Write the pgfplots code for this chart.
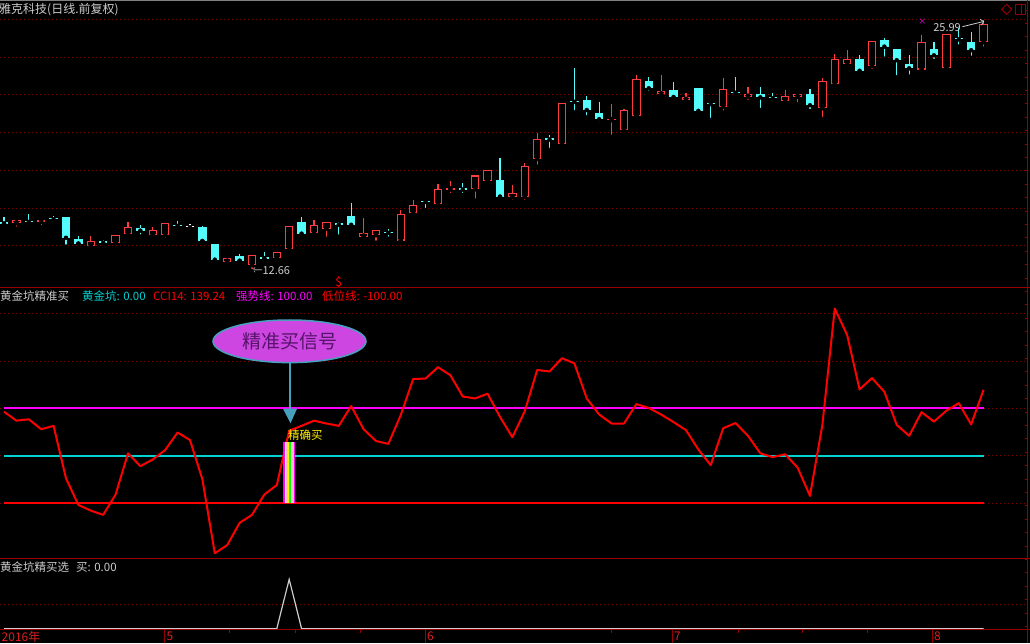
\documentclass[border=0pt]{standalone}
\usepackage{pgfplots}
\pgfplotsset{compat=1.18}
\usepackage{pgfplotstable}
\usepackage{fontspec}
\setmainfont{Noto Sans CJK SC}
\usetikzlibrary{arrows.meta}

\newcommand\fs[1]{\fontsize{#1}{#1}\selectfont}

\definecolor{kred}{RGB}{255,60,60}
\definecolor{kcyan}{RGB}{84,252,252}
\definecolor{ccired}{RGB}{255,0,0}
\definecolor{strong}{RGB}{255,0,255}
\definecolor{zline}{RGB}{0,210,210}
\definecolor{frame}{RGB}{150,0,0}
\definecolor{gridc}{RGB}{128,0,0}
\definecolor{axlbl}{RGB}{220,30,30}
\definecolor{txt}{RGB}{205,205,205}
\definecolor{callfill}{RGB}{205,70,225}
\definecolor{callline}{RGB}{70,160,190}
\definecolor{calltext}{RGB}{85,20,105}

% daily bars: index, open, high, low, close, CCI14, buy signal
\pgfplotstableread{
i o h l c cci buy
0 15.26 15.51 15.17 15.17 93 0
1 15.19 15.35 14.90 15.35 74 0
2 15.29 15.67 15.15 15.26 77 0
3 15.27 15.36 14.98 15.36 56 0
4 15.43 15.58 15.27 15.40 63 0
5 15.52 15.52 13.95 14.42 -48 0
6 14.34 14.51 14.11 14.11 -104 0
7 14.00 14.51 13.95 14.25 -116 0
8 14.27 14.32 14.07 14.16 -125 0
9 14.16 14.55 14.16 14.55 -82 0
10 14.64 15.26 14.64 14.99 5 0
11 14.94 15.10 14.48 14.80 -22 0
12 14.58 14.99 14.58 14.82 -8 0
13 14.58 15.20 14.32 15.20 12 0
14 15.07 15.31 14.96 15.05 49 0
15 14.98 15.15 14.80 14.98 33 0
16 14.99 15.05 14.25 14.25 -50 0
17 14.09 14.09 13.10 13.26 -206 0
18 13.15 13.33 13.07 13.33 -189 0
19 13.45 13.56 13.20 13.20 -142 0
20 12.96 13.49 12.66 13.49 -125 0
21 13.34 13.67 13.32 13.32 -82 0
22 13.36 13.65 13.36 13.65 -62 0
23 13.81 15.03 13.81 15.03 53 1
24 15.24 15.52 14.42 14.64 63 0
25 14.69 15.36 14.64 15.10 74 0
26 14.90 15.24 14.36 15.24 68 0
27 15.14 15.24 14.48 15.12 63 0
28 15.58 16.27 15.01 15.11 105 0
29 14.48 15.47 14.48 14.66 56 0
30 14.55 14.83 14.16 14.83 31 0
31 14.70 14.89 14.37 14.68 25 0
32 14.27 15.89 14.27 15.68 86 0
33 15.75 16.42 15.65 16.16 162 0
34 16.34 16.42 15.89 16.32 163 0
35 16.21 17.27 16.04 16.99 187 0
36 16.98 17.42 16.69 17.00 170 0
37 17.00 17.31 16.69 16.98 125 0
38 16.99 17.73 16.39 17.73 121 0
39 17.43 18.00 17.43 18.00 131 0
40 17.47 18.65 16.60 16.60 82 0
41 16.57 17.20 16.33 16.78 39 0
42 16.60 18.37 16.33 18.21 94 0
43 18.60 19.96 18.19 19.68 181 0
44 19.65 19.89 19.08 19.63 178 0
45 19.40 21.59 19.29 21.59 206 0
46 21.65 23.44 21.08 21.63 195 0
47 21.75 21.96 20.81 21.20 121 0
48 21.06 21.61 20.49 20.71 87 0
49 20.66 21.50 19.77 20.68 68 0
50 20.12 21.24 20.12 21.22 68 0
51 20.88 23.06 20.88 22.84 109 0
52 22.74 22.97 22.09 22.35 101 0
53 22.03 23.06 21.94 22.21 87 0
54 22.26 22.68 21.73 21.89 71 0
55 21.73 22.09 21.62 21.89 54 0
56 22.34 22.34 20.99 21.15 13 0
57 21.53 21.53 20.67 21.51 -20 0
58 21.37 22.91 21.06 22.33 58 0
59 22.13 22.97 21.90 22.11 69 0
60 21.90 22.42 21.64 22.05 42 0
61 22.06 22.40 21.20 21.87 5 0
62 21.83 22.12 21.59 21.81 -3 0
63 21.69 22.26 21.55 21.94 3 0
64 21.90 22.05 21.50 22.05 -25 0
65 22.06 22.30 21.15 21.45 -85 0
66 21.29 22.88 20.72 22.75 65 0
67 22.58 24.17 22.40 23.90 311 0
68 23.62 24.38 23.44 23.90 255 0
69 23.92 24.10 23.18 23.28 140 0
70 23.52 24.86 23.28 24.86 164 0
71 24.91 25.03 23.92 24.56 135 0
72 24.44 24.44 22.93 23.84 65 0
73 23.66 24.10 22.97 23.41 42 0
74 23.34 25.19 23.23 24.81 92 0
75 24.44 24.81 23.81 24.10 72 0
76 23.41 25.22 23.41 25.22 95 0
77 24.96 25.56 24.56 24.94 111 0
78 24.81 25.32 23.97 24.37 66 0
79 24.79 25.99 24.45 25.76 139.24 0
}\kline

\pgfplotsset{
  panel/.style={scale only axis, width=1027.5pt, xmin=-0.3226, xmax=82.54,
    anchor=south west, axis line style={draw=none}, tick style={draw=none},
    xtick=\empty, yticklabels={}, ymajorgrids,
    grid style={gridc, line width=0.8pt, dash pattern=on 1pt off 3pt}},
  candle/.style={only marks, mark=none, error bars/y dir=plus,
    error bars/y explicit, error bars/error mark=none},
  up/.style={restrict expr to domain={\thisrow{c}-\thisrow{o}}{0.000001:100}},
  down/.style={restrict expr to domain={\thisrow{c}-\thisrow{o}}{-100:-0.000001}},
  flat/.style={restrict expr to domain={\thisrow{c}-\thisrow{o}}{-0.0000001:0.0000001}},
}

\begin{document}
\begin{tikzpicture}
\fill[black] (0pt,0pt) rectangle (1030pt,643pt);

% price panel
\begin{axis}[panel, at={(0pt,356pt)}, height=287pt, ymin=11.809, ymax=27.034,
  ytick={14,16,...,26}]
  % wicks
  \addplot[candle, up, error bars/error bar style={kred, line width=1.1pt}]
    table[x=i, y=l, y error plus expr=\thisrow{h}-\thisrow{l}] {\kline};
  \addplot[candle, down, error bars/error bar style={kcyan, line width=1.1pt}]
    table[x=i, y=l, y error plus expr=\thisrow{h}-\thisrow{l}] {\kline};
  \addplot[candle, flat, error bars/error bar style={white, line width=1.1pt}]
    table[x=i, y=l, y error plus expr=\thisrow{h}-\thisrow{l}] {\kline};
  % bodies
  \addplot[candle, up, error bars/error bar style={kred, line width=8.5pt}]
    table[x=i, y=o, y error plus expr={max(\thisrow{c}-\thisrow{o},0.06)}] {\kline};
  \addplot[candle, up, error bars/error bar style={black, line width=6.3pt}]
    table[x=i, y expr=\thisrow{o}+0.06, y error plus expr={max(\thisrow{c}-\thisrow{o}-0.12,0)}] {\kline};
  \addplot[candle, down, error bars/error bar style={kcyan, line width=8.5pt}]
    table[x=i, y=c, y error plus expr={max(\thisrow{o}-\thisrow{c},0.06)}] {\kline};
  \addplot[candle, flat, error bars/error bar style={white, line width=8.5pt}]
    table[x=i, y=o, y error plus expr=0.06] {\kline};

  \node[anchor=west, inner sep=0pt, text=txt, font=\fs{11}] at (axis cs:19.95,12.66) {←12.66};
  \node[anchor=east, inner sep=0pt, text=txt, font=\fs{11}] at (axis cs:77.18,25.55) {25.99};
  \draw[txt, line width=0.8pt, -{Straight Barb[length=3pt]}] (axis cs:77.3,25.62) -- (axis cs:79.05,25.9);
  \node[inner sep=0pt, text=strong, font=\fs{8}] at (axis cs:74.06,25.88) {×};
  \node[inner sep=0pt, text=ccired, font=\fs{12}] at (axis cs:27,12.07) {\$};
\end{axis}

% CCI panel
\begin{axis}[panel, at={(0pt,85pt)}, height=271pt, ymin=-216.14, ymax=356.43,
  ytick={-100,0,100,200,300}]
  \addplot[strong, line width=2pt] coordinates {(0,100) (79,100)};
  \addplot[zline, line width=2pt] coordinates {(0,0) (79,0)};
  \addplot[ccired, line width=2pt] coordinates {(0,-100) (79,-100)};
  \addplot[ccired, line width=2pt, line join=round] table[x=i, y=cci] {\kline};
  % signal stick at bar 23
  \addplot[strong, line width=1.6pt] coordinates {(22.585,-100) (22.585,28)};
  \addplot[white, line width=1.6pt] coordinates {(22.706,-100) (22.706,28)};
  \addplot[pink, line width=1.6pt] coordinates {(22.827,-100) (22.827,28)};
  \addplot[yellow, line width=1.6pt] coordinates {(22.948,-100) (22.948,28)};
  \addplot[green, line width=1.6pt] coordinates {(23.069,-100) (23.069,28)};
  \addplot[green!30!white, line width=1.6pt] coordinates {(23.190,-100) (23.190,28)};
  \addplot[pink, line width=1.6pt] coordinates {(23.311,-100) (23.311,28)};
  \addplot[strong, line width=1.6pt] coordinates {(23.432,-100) (23.432,28)};
  \node[anchor=west, inner sep=0pt, text=yellow, font=\fs{11.5}] at (axis cs:22.9,42.7) {精确买};
\end{axis}

% buy-select panel
\begin{axis}[panel, at={(0pt,0pt)}, height=85pt, ymin=-0.2895, ymax=1.4312,
  ytick={0.5}]
  \addplot[txt, line width=1.2pt] table[x=i, y=buy] {\kline};
\end{axis}

\begin{scope}[x=1pt, y=1pt]
  % frame lines
  \draw[gray, line width=1pt] (0,642.5) -- (1030,642.5);
  \draw[frame, line width=1.2pt] (0,355.5) -- (1030,355.5);
  \draw[frame, line width=1.2pt] (0,84.5) -- (1030,84.5);
  \draw[frame, line width=1.2pt] (0,13.3) -- (1030,13.3);
  \draw[frame, line width=1pt] (1027.7,0) -- (1027.7,643);
  \foreach \k in {0,...,46} \draw[frame, line width=0.8pt] (1027.7,{633-13.4*\k}) -- ++(-3,0);
  % month ticks and labels
  \foreach \xx in {164.7,425,672.3,932.3} \draw[frame, line width=1pt] (\xx,13.3) -- (\xx,0);
  \foreach \xx in {229,295,360,611,738.3,802.7,867.7} \draw[frame, line width=1pt] (\xx,13.3) -- (\xx,10.5);
  \node[anchor=west, inner sep=0pt, text=axlbl, font=\fs{12}] at (1.5,6.5) {2016年};
  \node[anchor=west, inner sep=0pt, text=axlbl, font=\fs{12}] at (166.5,6.5) {5};
  \node[anchor=west, inner sep=0pt, text=axlbl, font=\fs{12}] at (427,6.5) {6};
  \node[anchor=west, inner sep=0pt, text=axlbl, font=\fs{12}] at (674,6.5) {7};
  \node[anchor=west, inner sep=0pt, text=axlbl, font=\fs{12}] at (934,6.5) {8};
  % titles
  \node[anchor=west, inner sep=0pt, text=txt, font=\fs{12}] at (-1,633.5) {雅克科技(日线.前复权)};
  \node[anchor=west, inner sep=0pt, text=txt, font=\fs{11.5}] at (0,347) {黄金坑精准买};
  \node[anchor=west, inner sep=0pt, text=zline, font=\fs{11.5}] at (82,347) {黄金坑: 0.00};
  \node[anchor=west, inner sep=0pt, text=ccired, font=\fs{11.5}] at (153,347) {CCI14: 139.24};
  \node[anchor=west, inner sep=0pt, text=strong, font=\fs{11.5}] at (236,347) {强势线: 100.00};
  \node[anchor=west, inner sep=0pt, text=ccired, font=\fs{11.5}] at (322,347) {低位线: -100.00};
  \node[anchor=west, inner sep=0pt, text=txt, font=\fs{11.5}] at (0,76) {黄金坑精买选};
  \node[anchor=west, inner sep=0pt, text=txt, font=\fs{11.5}] at (76,76) {买: 0.00};
  % callout
  \draw[callline, line width=1.5pt, fill=callfill] (289.5,301.7) ellipse [x radius=76.5, y radius=21.3];
  \node[text=calltext, font=\fs{19}] at (290,301.7) {精准买信号};
  \draw[callline, line width=1.5pt] (290,280.4) -- (290,232);
  \fill[callline] (283,234.3) -- (297,234.3) -- (290.5,219.7) -- cycle;
  % top-right icons
  \draw[frame, line width=1pt] (1006.7,638.7) -- (1011.7,633.7) -- (1006.7,628.7) -- (1001.7,633.7) -- cycle;
  \draw[frame, line width=1pt] (1015.3,638.7) rectangle (1025,628.7);
  \draw[frame, line width=1pt] (1021,638.7) -- (1021,628.7);
\end{scope}

\pgfresetboundingbox
\path[use as bounding box] (0pt,0pt) rectangle (1030pt,643pt);
\end{tikzpicture}
\end{document}
